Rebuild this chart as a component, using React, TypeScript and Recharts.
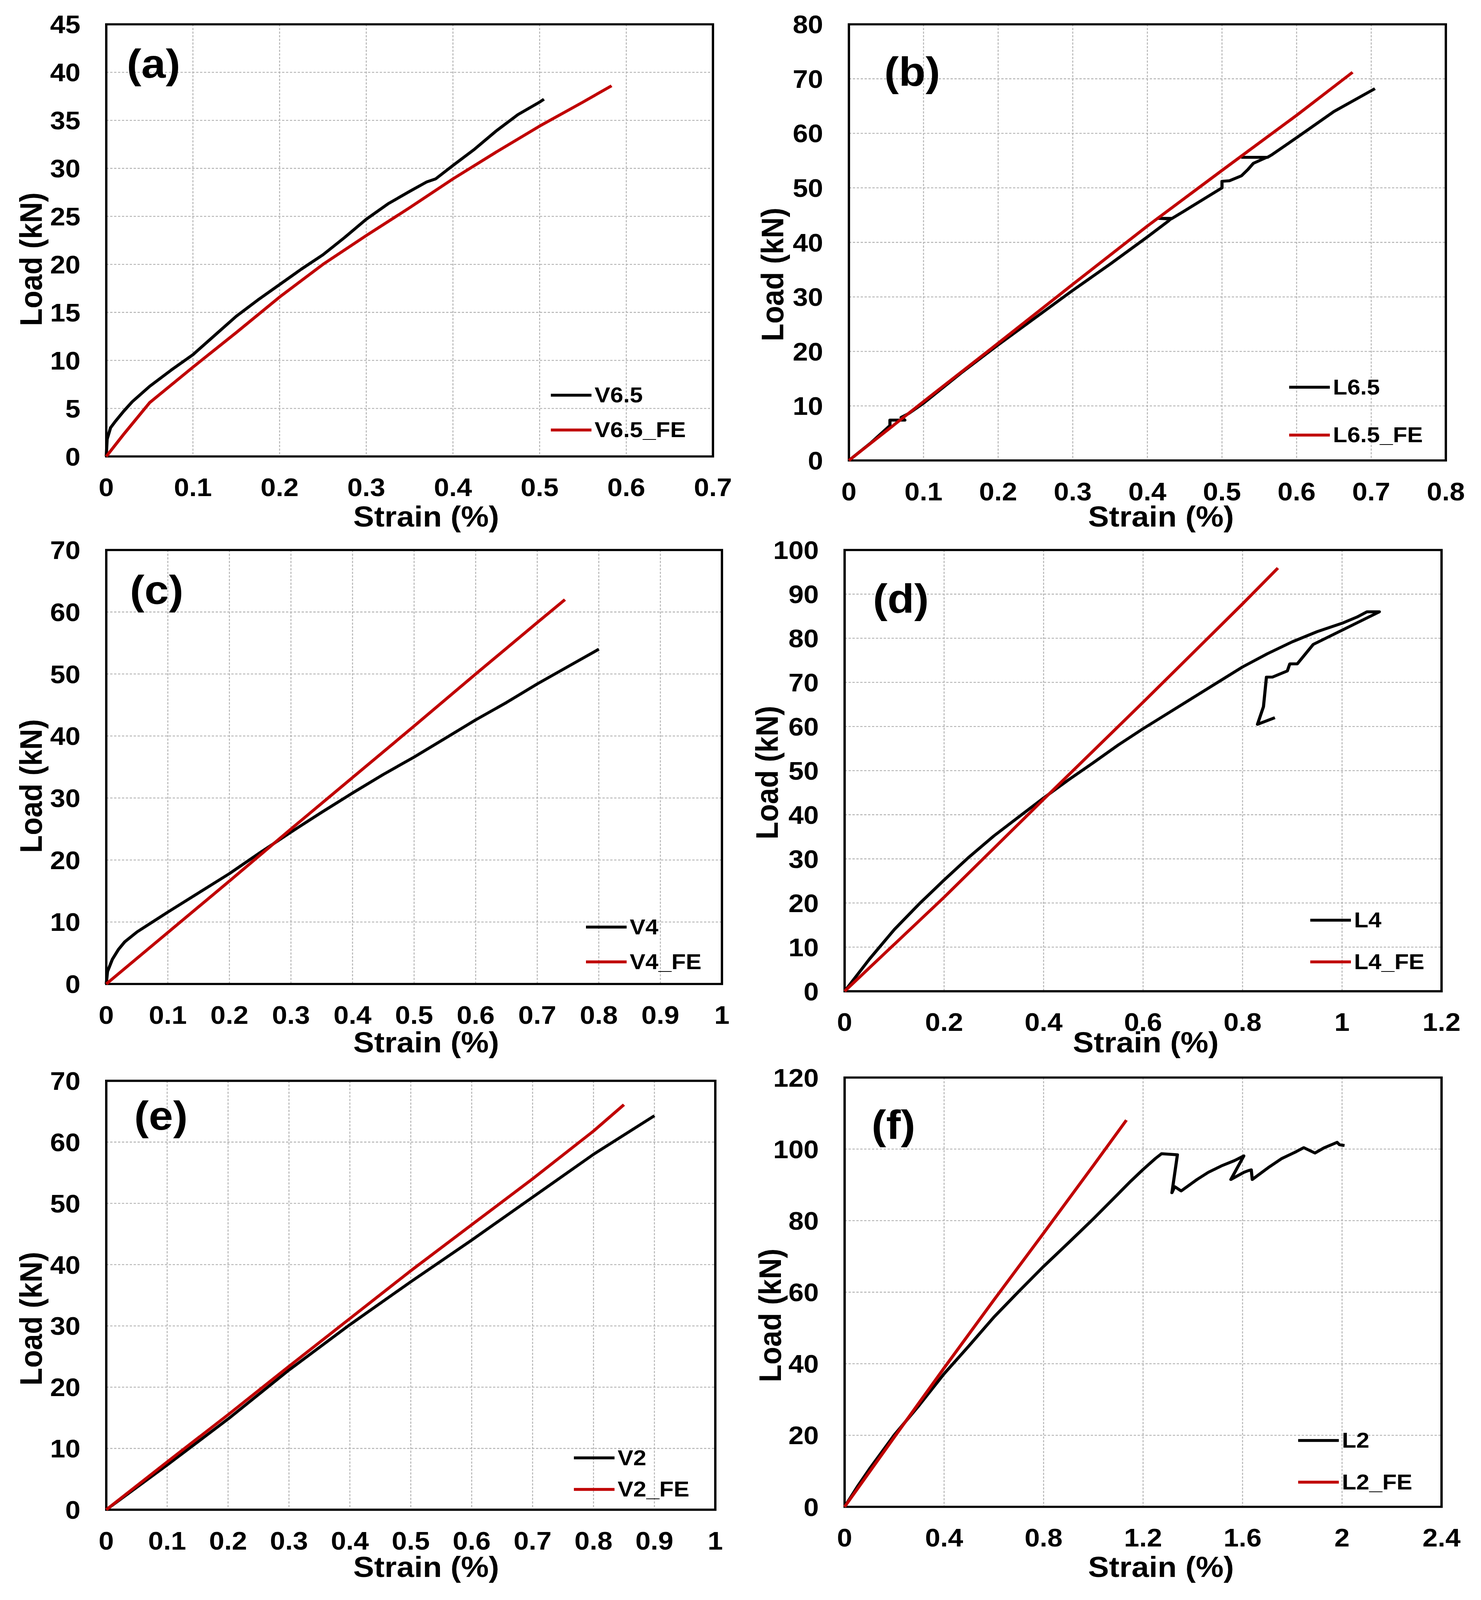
import { useLayoutEffect, useState } from 'react';
import { CartesianGrid, Legend, Line, LineChart, ReferenceArea, XAxis, YAxis } from 'recharts';

type Pt = { x: number; y: number };
const pts = (rows: number[][]): Pt[] => rows.map(([x, y]) => ({ x, y }));

// ---- (a) V6.5 ----
const v65Test = pts([
  [0, 0], [0.001, 1.8], [0.005, 3.0], [0.01, 3.6], [0.02, 4.7], [0.03, 5.7], [0.05, 7.3], [0.075, 9.0],
  [0.1, 10.6], [0.125, 12.6], [0.15, 14.6], [0.175, 16.3], [0.2, 17.9], [0.225, 19.5], [0.25, 21.0],
  [0.275, 22.8], [0.3, 24.7], [0.325, 26.3], [0.35, 27.6], [0.37, 28.6], [0.38, 28.9], [0.4, 30.3],
  [0.425, 32.0], [0.45, 33.9], [0.475, 35.6], [0.5, 36.9], [0.505, 37.2],
]);
const v65Fe = pts([
  [0, 0], [0.02, 2.3], [0.05, 5.6], [0.1, 9.3], [0.15, 12.9], [0.2, 16.6], [0.25, 20.0], [0.3, 23.0],
  [0.35, 25.9], [0.4, 28.9], [0.45, 31.7], [0.5, 34.4], [0.55, 36.9], [0.583, 38.6],
]);
const strainTicksA = [0, 0.1, 0.2, 0.3, 0.4, 0.5, 0.6, 0.7];
const loadTicksA = [0, 5, 10, 15, 20, 25, 30, 35, 40, 45];

// ---- (b) L6.5 ----
const l65Test = pts([
  [0, 0], [0.03, 3.3], [0.055, 6.4], [0.055, 7.4], [0.075, 7.4], [0.07, 7.9], [0.08, 8.6], [0.1, 10.5],
  [0.15, 16.0], [0.2, 21.2], [0.25, 26.2], [0.3, 31.2], [0.35, 36.0], [0.4, 41.0], [0.428, 43.9],
  [0.432, 44.4], [0.414, 44.4], [0.432, 44.3], [0.45, 45.8], [0.5, 50.0], [0.5, 51.2], [0.51, 51.3],
  [0.526, 52.2], [0.535, 53.4], [0.542, 54.5], [0.56, 55.6], [0.527, 55.6], [0.561, 55.6], [0.566, 56.0],
  [0.6, 59.2], [0.65, 64.0], [0.705, 68.2],
]);
const l65Fe = pts([
  [0, 0], [0.1, 10.8], [0.2, 21.5], [0.3, 32.3], [0.4, 43.0], [0.5, 53.2], [0.6, 63.3], [0.675, 71.2],
]);
const strainTicksB = [0, 0.1, 0.2, 0.3, 0.4, 0.5, 0.6, 0.7, 0.8];
const loadTicksB = [0, 10, 20, 30, 40, 50, 60, 70, 80];

// ---- (c) V4 ----
const v4Test = pts([
  [0, 0], [0.002, 2.0], [0.01, 4.0], [0.02, 5.6], [0.03, 6.8], [0.05, 8.4], [0.075, 10.0], [0.1, 11.6],
  [0.15, 14.7], [0.2, 17.8], [0.25, 21.2], [0.3, 24.5], [0.35, 27.7], [0.4, 30.8], [0.45, 33.8],
  [0.5, 36.6], [0.55, 39.6], [0.6, 42.6], [0.65, 45.4], [0.7, 48.4], [0.75, 51.2], [0.8, 54.0],
]);
const v4Fe = pts([
  [0, 0], [0.1, 8.3], [0.2, 16.6], [0.3, 25.0], [0.4, 33.3], [0.5, 41.6], [0.6, 50.0], [0.7, 58.3], [0.745, 62.0],
]);
const strainTicksC = [0, 0.1, 0.2, 0.3, 0.4, 0.5, 0.6, 0.7, 0.8, 0.9, 1];
const loadTicksC = [0, 10, 20, 30, 40, 50, 60, 70];

// ---- (d) L4 ----
const l4Test = pts([
  [0, 0], [0.05, 7.3], [0.1, 14.0], [0.15, 19.8], [0.2, 25.2], [0.25, 30.4], [0.3, 35.2], [0.35, 39.5],
  [0.4, 43.8], [0.45, 47.9], [0.5, 51.8], [0.55, 55.8], [0.6, 59.5], [0.65, 63.0], [0.7, 66.5],
  [0.75, 70.0], [0.8, 73.5], [0.85, 76.5], [0.9, 79.2], [0.95, 81.5], [1.0, 83.4], [1.03, 84.8],
  [1.05, 86.0], [1.075, 86.0], [0.942, 78.6], [0.91, 74.2], [0.895, 74.2], [0.89, 72.6], [0.86, 71.2],
  [0.848, 71.2], [0.842, 64.5], [0.83, 60.5], [0.865, 62.0],
]);
const l4Fe = pts([
  [0, 0], [0.2, 21.3], [0.4, 43.5], [0.6, 65.5], [0.8, 87.8], [0.871, 95.9],
]);
const strainTicksD = [0, 0.2, 0.4, 0.6, 0.8, 1, 1.2];
const loadTicksD = [0, 10, 20, 30, 40, 50, 60, 70, 80, 90, 100];

// ---- (e) V2 ----
const v2Test = pts([
  [0, 0], [0.1, 7.3], [0.2, 14.8], [0.3, 22.8], [0.4, 30.2], [0.5, 37.2], [0.6, 44.0], [0.7, 51.0],
  [0.8, 58.0], [0.9, 64.3],
]);
const v2Fe = pts([
  [0, 0], [0.1, 7.8], [0.2, 15.5], [0.3, 23.4], [0.4, 31.2], [0.5, 39.0], [0.6, 46.5], [0.7, 54.0],
  [0.8, 61.8], [0.85, 66.1],
]);
const strainTicksE = [0, 0.1, 0.2, 0.3, 0.4, 0.5, 0.6, 0.7, 0.8, 0.9, 1];
const loadTicksE = [0, 10, 20, 30, 40, 50, 60, 70];

// ---- (f) L2 ----
const l2Test = pts([
  [0, 0], [0.05, 5.5], [0.1, 10.6], [0.2, 20.1], [0.3, 28.4], [0.4, 37.2], [0.5, 45.0], [0.6, 53.0],
  [0.7, 60.2], [0.8, 67.2], [0.9, 73.8], [1.0, 80.5], [1.1, 87.5], [1.15, 91.0], [1.2, 94.3],
  [1.25, 97.4], [1.274, 98.7], [1.338, 98.4], [1.316, 87.8], [1.327, 89.5], [1.353, 88.3], [1.417, 91.5],
  [1.462, 93.5], [1.515, 95.3], [1.568, 96.8], [1.605, 98.1], [1.553, 91.5], [1.605, 93.5], [1.624, 94.0],
  [1.635, 94.2], [1.639, 91.5], [1.703, 94.8], [1.756, 97.3], [1.816, 99.3], [1.846, 100.4], [1.891, 98.9],
  [1.929, 100.4], [1.98, 101.9], [1.99, 101.2], [2.01, 101.0],
]);
const l2Fe = pts([
  [0, 0], [0.2, 19.5], [0.4, 38.8], [0.6, 57.8], [0.8, 76.5], [1.0, 95.4], [1.133, 108.1],
]);
const strainTicksF = [0, 0.4, 0.8, 1.2, 1.6, 2, 2.4];
const loadTicksF = [0, 20, 40, 60, 80, 100, 120];

// ---- layout (page pixels) ----
const PAGE_W = 3791;
const PAGE_H = 4413;
const FONT = "'Liberation Sans', Arial, Helvetica, sans-serif";
const PAD_L = 260;
const PAD_T = 60;
const PAD_R = 100;
const PAD_B = 240;
const LINE_W = 8;

interface PanelSpec {
  tag: string;
  test: Pt[];
  fe: Pt[];
  testName: string;
  feName: string;
  xTicks: number[];
  yTicks: number[];
  box: { x: number; y: number; w: number; h: number };
  tagAt: [number, number];
  xTitleAt: [number, number];
  yTitleAt: [number, number];
  legend: { x: number; y: number; gap: number };
}

const panels: PanelSpec[] = [
  {
    tag: '(a)', test: v65Test, fe: v65Fe, testName: 'V6.5', feName: 'V6.5_FE',
    xTicks: strainTicksA, yTicks: loadTicksA,
    box: { x: 272, y: 67, w: 1553, h: 1192 },
    tagAt: [393, 176], xTitleAt: [1091, 1424], yTitleAt: [79, 715],
    legend: { x: 1410, y: 1090, gap: 96 },
  },
  {
    tag: '(b)', test: l65Test, fe: l65Fe, testName: 'L6.5', feName: 'L6.5_FE',
    xTicks: strainTicksB, yTicks: loadTicksB,
    box: { x: 2173, y: 67, w: 1528, h: 1203 },
    tagAt: [2335, 197], xTitleAt: [2972, 1424], yTitleAt: [1977, 757],
    legend: { x: 3300, y: 1068, gap: 132 },
  },
  {
    tag: '(c)', test: v4Test, fe: v4Fe, testName: 'V4', feName: 'V4_FE',
    xTicks: strainTicksC, yTicks: loadTicksC,
    box: { x: 272, y: 1517, w: 1576, h: 1197 },
    tagAt: [401, 1627], xTitleAt: [1091, 2874], yTitleAt: [79, 2168],
    legend: { x: 1500, y: 2557, gap: 96 },
  },
  {
    tag: '(d)', test: l4Test, fe: l4Fe, testName: 'L4', feName: 'L4_FE',
    xTicks: strainTicksD, yTicks: loadTicksD,
    box: { x: 2162, y: 1517, w: 1528, h: 1217 },
    tagAt: [2306, 1650], xTitleAt: [2933, 2874], yTitleAt: [1963, 2131],
    legend: { x: 3354, y: 2538, gap: 115 },
  },
  {
    tag: '(e)', test: v2Test, fe: v2Fe, testName: 'V2', feName: 'V2_FE',
    xTicks: strainTicksE, yTicks: loadTicksE,
    box: { x: 272, y: 2981, w: 1559, h: 1183 },
    tagAt: [412, 3077], xTitleAt: [1091, 4321], yTitleAt: [79, 3637],
    legend: { x: 1469, y: 4021, gap: 87 },
  },
  {
    tag: '(f)', test: l2Test, fe: l2Fe, testName: 'L2', feName: 'L2_FE',
    xTicks: strainTicksF, yTicks: loadTicksF,
    box: { x: 2162, y: 2972, w: 1528, h: 1184 },
    tagAt: [2287, 3102], xTitleAt: [2972, 4321], yTitleAt: [1971, 3628],
    legend: { x: 3323, y: 3973, gap: 115 },
  },
];

const tickStyle = { fill: '#000', fontSize: 70, fontWeight: 700, fontFamily: FONT };

function KeyList({ payload, gap }: { payload?: { value: string; color: string }[]; gap: number }) {
  return (
    <div>
      {(payload ?? []).map((e) => (
        <div key={e.value} style={{ display: 'flex', alignItems: 'center', height: gap }}>
          <span style={{ display: 'inline-block', width: 104, height: LINE_W, background: e.color }} />
          <span style={{ marginLeft: 8, fontFamily: FONT, fontWeight: 700, fontSize: 60, color: '#000', lineHeight: 1 }}>
            {e.value}
          </span>
        </div>
      ))}
    </div>
  );
}

function Panel({ p }: { p: PanelSpec }) {
  const { box } = p;
  const left = box.x - PAD_L;
  const top = box.y - PAD_T;
  const width = box.w + PAD_L + PAD_R;
  const height = box.h + PAD_T + PAD_B;
  const xMax = p.xTicks[p.xTicks.length - 1];
  const yMax = p.yTicks[p.yTicks.length - 1];
  const [tx, ty] = [p.tagAt[0] - left, p.tagAt[1] - top];
  const [xtx, xty] = [p.xTitleAt[0] - left, p.xTitleAt[1] - top];
  const [ytx, yty] = [p.yTitleAt[0] - left, p.yTitleAt[1] - top];

  return (
    <div style={{ position: 'absolute', left, top, width, height }}>
      <LineChart width={width} height={height} margin={{ top: PAD_T, right: PAD_R, left: 0, bottom: 0 }}>
        <CartesianGrid stroke="#b4b4b4" strokeWidth={2.5} strokeDasharray="6 4" />
        <XAxis
          type="number"
          dataKey="x"
          domain={[0, xMax]}
          ticks={p.xTicks}
          interval={0}
          height={PAD_B}
          axisLine={false}
          tickLine={false}
          tickSize={0}
          tickMargin={60}
          tick={tickStyle}
          tickFormatter={(v: number) => String(v)}
          label={{
            content: () => (
              <text x={xtx} y={xty} textAnchor="middle" dominantBaseline="central" fontSize={80} fontWeight={700} fontFamily={FONT} fill="#000">
                Strain (%)
              </text>
            ),
          }}
        />
        <YAxis
          type="number"
          domain={[0, yMax]}
          ticks={p.yTicks}
          interval={0}
          width={PAD_L}
          axisLine={false}
          tickLine={false}
          tickSize={0}
          tickMargin={66}
          tick={tickStyle}
          label={{
            content: () => (
              <text x={ytx} y={yty} transform={`rotate(-90 ${ytx} ${yty})`} textAnchor="middle" dominantBaseline="central" fontSize={80} fontWeight={700} fontFamily={FONT} fill="#000">
                Load (kN)
              </text>
            ),
          }}
        />
        <Line data={p.test} dataKey="y" name={p.testName} type="linear" stroke="#000" strokeWidth={LINE_W} strokeLinejoin="round" dot={false} activeDot={false} isAnimationActive={false} />
        <Line data={p.fe} dataKey="y" name={p.feName} type="linear" stroke="#c00000" strokeWidth={LINE_W} strokeLinejoin="round" dot={false} activeDot={false} isAnimationActive={false} />
        <ReferenceArea
          x1={0}
          x2={xMax}
          y1={0}
          y2={yMax}
          fill="none"
          stroke="#000"
          strokeWidth={6}
          label={{
            content: () => (
              <text x={tx} y={ty} textAnchor="middle" dominantBaseline="central" fontSize={112} fontWeight={700} fontFamily={FONT} fill="#000">
                {p.tag}
              </text>
            ),
          }}
        />
        <Legend
          layout="vertical"
          align="center"
          verticalAlign="middle"
          wrapperStyle={{ left: p.legend.x - left, top: p.legend.y - top - p.legend.gap / 2, width: 'auto' }}
          content={(props: any) => <KeyList payload={props.payload} gap={p.legend.gap} />}
        />
      </LineChart>
    </div>
  );
}

export default function App() {
  // the viewport can be shorter than the nominal page; squeeze the figure to fit it
  const [view, setView] = useState({ w: PAGE_W, h: PAGE_H });
  useLayoutEffect(() => {
    setView({ w: window.innerWidth, h: window.innerHeight });
  }, []);
  const sx = Math.min(1, view.w / PAGE_W);
  const sy = Math.min(1, view.h / PAGE_H);

  return (
    <div
      style={{
        position: 'absolute',
        left: 0,
        top: 0,
        width: PAGE_W,
        height: PAGE_H,
        background: '#fff',
        overflow: 'hidden',
        transform: `scale(${sx}, ${sy})`,
        transformOrigin: '0 0',
      }}
    >
      {panels.map((p) => (
        <Panel key={p.tag} p={p} />
      ))}
    </div>
  );
}
